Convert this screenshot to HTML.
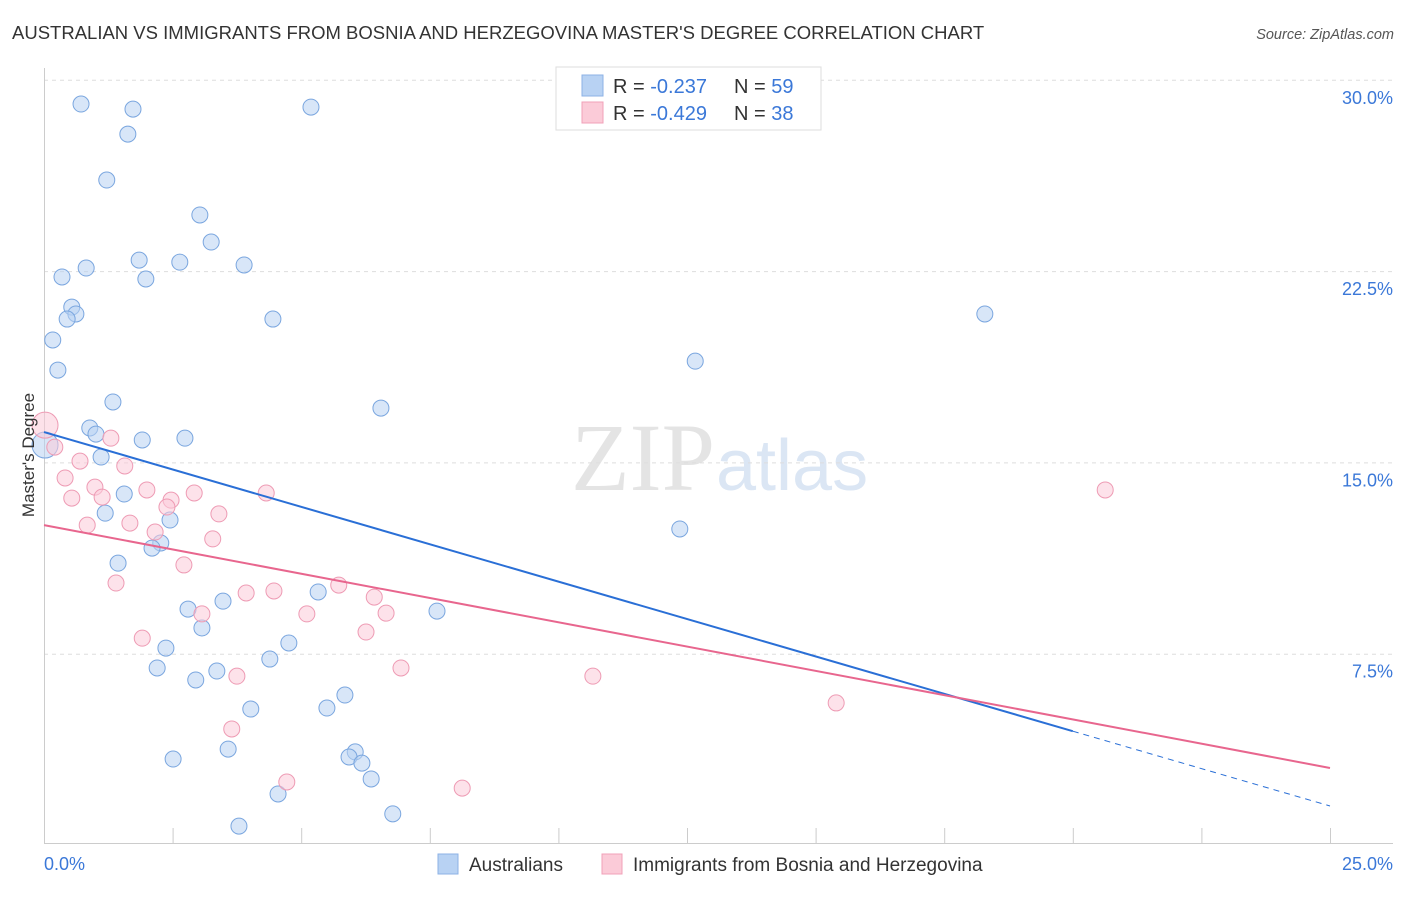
<!DOCTYPE html>
<html><head><meta charset="utf-8"><style>
body{margin:0;background:#fff;font-family:"Liberation Sans",sans-serif;}
svg text{font-family:"Liberation Sans",sans-serif;}
</style></head><body>
<svg id="chart" width="1406" height="892">
<text x="12" y="39" font-size="18.5" fill="#333">AUSTRALIAN VS IMMIGRANTS FROM BOSNIA AND HERZEGOVINA MASTER'S DEGREE CORRELATION CHART</text>
<text x="1394" y="39" font-size="14.5" fill="#555" font-style="italic" text-anchor="end">Source: ZipAtlas.com</text>
<text x="715" y="490" font-size="96" fill="#e4e4e4" text-anchor="end" style="font-family:'Liberation Serif',serif">ZIP</text>
<text x="716" y="490" font-size="72" fill="#dbe6f4">atlas</text>
<g id="grid"></g>
<g id="axes"></g>
<g id="marks"></g>
<g id="lines"></g>
<text x="34" y="455" font-size="17" fill="#333" text-anchor="middle" transform="rotate(-90 34 455)">Master's Degree</text>
<g>
<rect x="556" y="67" width="265" height="63" fill="#fff" stroke="#ddd"/>
<rect x="582" y="75" width="21" height="21" fill="#b8d2f3" stroke="#8cb2e6"/>
<rect x="582" y="102" width="21" height="21" fill="#fbcbd8" stroke="#f0a0b8"/>
<text x="613" y="93" font-size="20" fill="#333">R = <tspan fill="#3b78d8">-0.237</tspan></text>
<text x="734" y="93" font-size="20" fill="#333">N = <tspan fill="#3b78d8">59</tspan></text>
<text x="613" y="120" font-size="20" fill="#333">R = <tspan fill="#3b78d8">-0.429</tspan></text>
<text x="734" y="120" font-size="20" fill="#333">N = <tspan fill="#3b78d8">38</tspan></text>
</g>
<g>
<rect x="438" y="854" width="20" height="20" fill="#b8d2f3" stroke="#8cb2e6"/>
<text x="469" y="871" font-size="19" fill="#333">Australians</text>
<rect x="602" y="854" width="20" height="20" fill="#fbcbd8" stroke="#f0a0b8"/>
<text x="633" y="871" font-size="19" fill="#333">Immigrants from Bosnia and Herzegovina</text>
</g>
</svg>
<script>
const xTicks=[0,2.5,5,7.5,10,12.5,15,17.5,20,22.5,25];
const yTicks=[7.5,15,22.5,30];
const yTickLabels=["7.5%","15.0%","22.5%","30.0%"];
const blueX=[0.72,1.73,5.19,1.63,1.22,3.03,3.25,1.85,2.64,3.89,0.82,0.35,1.98,0.54,0.62,0.45,4.45,0.17,0.27,1.34,6.55,0.89,1.01,1.91,2.74,0.02,1.11,1.56,1.19,2.45,2.27,2.10,1.44,5.33,3.48,2.80,7.64,3.07,4.76,2.37,4.39,2.20,3.36,2.95,5.85,4.02,5.50,6.05,5.93,6.18,2.51,3.58,6.36,4.55,6.78,3.79,12.66,18.29,12.36];
const blueY=[29.05,28.85,28.93,27.87,26.07,24.70,23.64,22.93,22.85,22.74,22.62,22.27,22.19,21.09,20.82,20.62,20.62,19.80,18.62,17.37,17.13,16.35,16.11,15.88,15.95,15.68,15.21,13.76,13.01,12.74,11.84,11.64,11.05,9.92,9.56,9.25,9.17,8.51,7.92,7.72,7.29,6.94,6.82,6.47,5.88,5.33,5.37,3.65,3.45,3.21,3.37,3.76,2.59,2.00,1.22,0.74,18.97,20.82,12.39];
const pinkX=[0.02,0.21,1.30,0.41,0.70,1.57,0.99,0.54,1.13,2.00,2.47,2.92,2.39,4.32,0.84,1.67,3.40,2.16,3.28,2.72,1.40,5.73,3.93,4.47,6.42,3.07,5.11,6.65,6.26,1.91,6.94,3.75,10.67,15.40,3.65,4.72,8.13,20.63];
const pinkY=[16.46,15.60,15.95,14.39,15.05,14.86,14.03,13.60,13.64,13.92,13.52,13.80,13.25,13.80,12.54,12.62,12.98,12.27,12.00,10.98,10.27,10.19,9.88,9.96,9.72,9.06,9.06,9.09,8.35,8.11,6.94,6.62,6.62,5.57,4.55,2.47,2.23,13.92];
const blueTrend=[16.19,1.53];
const pinkTrend=[12.54,3.02];
const blueSolidEnd=20;

const NS="http://www.w3.org/2000/svg";
const X=v=>44+v/25*1286;
const Y=v=>845-v/7.5*191.3;
function mk(t,a,p){const e=document.createElementNS(NS,t);for(const k in a)e.setAttribute(k,a[k]);document.getElementById(p).appendChild(e);return e;}

yTicks.forEach((t,i)=>{
  const g=mk('line',{x1:44,x2:1393,y1:Y(t)+0.5,y2:Y(t)+0.5,stroke:'#ddd','stroke-dasharray':'4,4'},'grid');
  
  
  const l=mk('text',{x:1393,y:Y(t)+24,'font-size':18,fill:'#3b78d8','text-anchor':'end'},'axes');
  l.textContent=yTickLabels[i];
  
  
});
const ax=mk('line',{x1:44,x2:1393,y1:843.5,y2:843.5,stroke:'#ccc'},'axes');


const ay=mk('line',{x1:44.5,x2:44.5,y1:68,y2:843,stroke:'#ccc'},'axes');


xTicks.forEach(t=>{
  const k=mk('line',{x1:X(t)+0.5,x2:X(t)+0.5,y1:828,y2:843,stroke:'#ccc'},'axes');
  
  
});
const x0=mk('text',{x:44,y:870,'font-size':18,fill:'#3b78d8'},'axes');x0.textContent='0.0%';


const x1=mk('text',{x:1393,y:870,'font-size':18,fill:'#3b78d8','text-anchor':'end'},'axes');x1.textContent='25.0%';



function dots(xs,ys,fill,stroke,name,bigIdx){
  xs.forEach((v,i)=>{
    const c=mk('circle',{cx:X(v),cy:Y(ys[i]),r:i===bigIdx?13:8,fill:fill,'fill-opacity':0.55,stroke:stroke,'stroke-width':1},'marks');
    
    
  });
}
dots(blueX,blueY,'#b8d2f3','#7aa6df','australians-point',25);
dots(pinkX,pinkY,'#fbcbd8','#ee9bb4','bosnia-point',0);

const bAt=x=>blueTrend[0]+(blueTrend[1]-blueTrend[0])*x/25;
const pAt=x=>pinkTrend[0]+(pinkTrend[1]-pinkTrend[0])*x/25;
const bl=mk('line',{x1:X(0),y1:Y(bAt(0)),x2:X(blueSolidEnd),y2:Y(bAt(blueSolidEnd)),stroke:'#2a6fd6','stroke-width':2},'lines');


const bd=mk('line',{x1:X(blueSolidEnd),y1:Y(bAt(blueSolidEnd)),x2:X(25),y2:Y(bAt(25)),stroke:'#2a6fd6','stroke-width':1,'stroke-dasharray':'6,5'},'lines');


const pl=mk('line',{x1:X(0),y1:Y(pAt(0)),x2:X(25),y2:Y(pAt(25)),stroke:'#e8668e','stroke-width':2},'lines');


</script>
</body></html>
